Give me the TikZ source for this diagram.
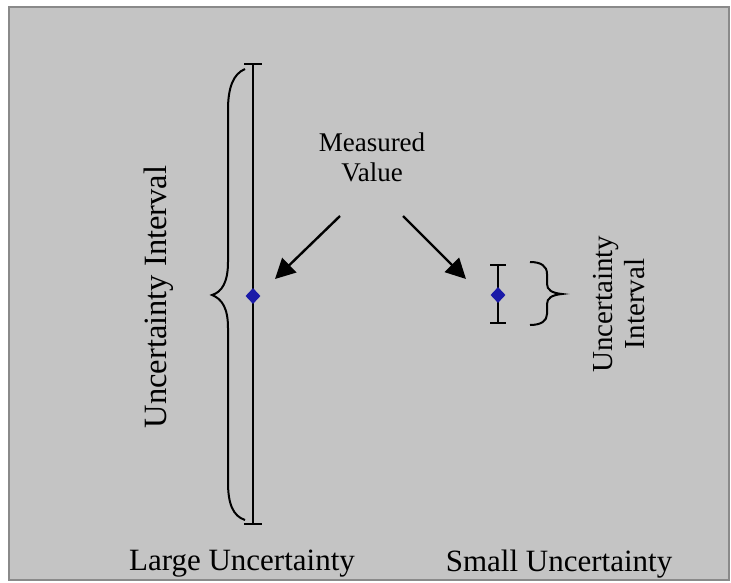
\documentclass[tikz,border=0pt]{standalone}
\usepackage{fontspec}
\setmainfont{Liberation Serif}
\usetikzlibrary{arrows.meta,shapes.geometric}
\definecolor{panel}{HTML}{C4C4C4}
\definecolor{panelline}{HTML}{8A8A8A}
\definecolor{dotblue}{HTML}{1A1AA8}
\begin{document}
\begin{tikzpicture}[x=1pt,y=-1pt,
  bar/.style={line width=2pt,black},
  brc/.style={line width=2pt,black},
  dot/.style={diamond,fill=dotblue,inner sep=0pt,minimum width=15pt,minimum height=16pt},
  arr/.style={line width=2.4pt,-{Triangle[length=20pt,width=20pt]}},
  lbl/.style={inner sep=0pt,align=center}
]
\useasboundingbox (0,0) rectangle (731,583);
\draw[panelline,fill=panel,line width=1.5pt] (9,7) rectangle (729,580);

% large uncertainty bar
\coordinate (Lt) at (253,64);
\coordinate (Lb) at (253,524);
\draw[bar] (Lt) -- (Lb);
\draw[bar] ([xshift=-9pt]Lt) -- ([xshift=9pt]Lt);
\draw[bar] ([xshift=-9pt]Lb) -- ([xshift=9pt]Lb);
\node[dot] (Ld) at (253,296) {};
% large brace
\draw[brc] (245,69) .. controls (233,74) and (228,88) .. (228,110)
  -- (228,262) .. controls (228,282) and (222,292) .. (212,295)
  .. controls (222,299) and (228,308) .. (228,328)
  -- (228,482) .. controls (228,504) and (233,516) .. (245,520);

% small uncertainty bar
\coordinate (St) at (498,265);
\coordinate (Sb) at (498,323);
\draw[bar] (St) -- (Sb);
\draw[bar] ([xshift=-8pt]St) -- ([xshift=8pt]St);
\draw[bar] ([xshift=-8pt]Sb) -- ([xshift=8pt]Sb);
\node[dot] (Sd) at (498,295) {};
% small brace
\draw[brc] (530,262) .. controls (541,262) and (547,266) .. (547,274)
  -- (547,284) .. controls (547,290) and (552,293) .. (562,294)
  .. controls (552,295) and (547,298) .. (547,304)
  -- (547,314) .. controls (547,321) and (541,325) .. (530,325);

% labels
\node[lbl,font=\fontsize{27}{30}\selectfont] (mv) at (372,157) {Measured\\Value};
\node[lbl,font=\fontsize{32.5}{36}\selectfont,rotate=90] (li) at (159,297) {Uncertainty Interval};
\node[lbl,font=\fontsize{29}{32}\selectfont,rotate=90] (si) at (619,304) {Uncertainty\\Interval};
\node[lbl,font=\fontsize{31}{34}\selectfont] (lu) at (242,564) {Large Uncertainty};
\node[lbl,font=\fontsize{31}{34}\selectfont] (su) at (559,564) {Small Uncertainty};

% arrows
\coordinate (a1) at (340,216);
\coordinate (a1e) at (275,279);
\coordinate (a2) at (403,216);
\coordinate (a2e) at (466,279);
\draw[arr] (a1) -- (a1e);
\draw[arr] (a2) -- (a2e);
\end{tikzpicture}
\end{document}
